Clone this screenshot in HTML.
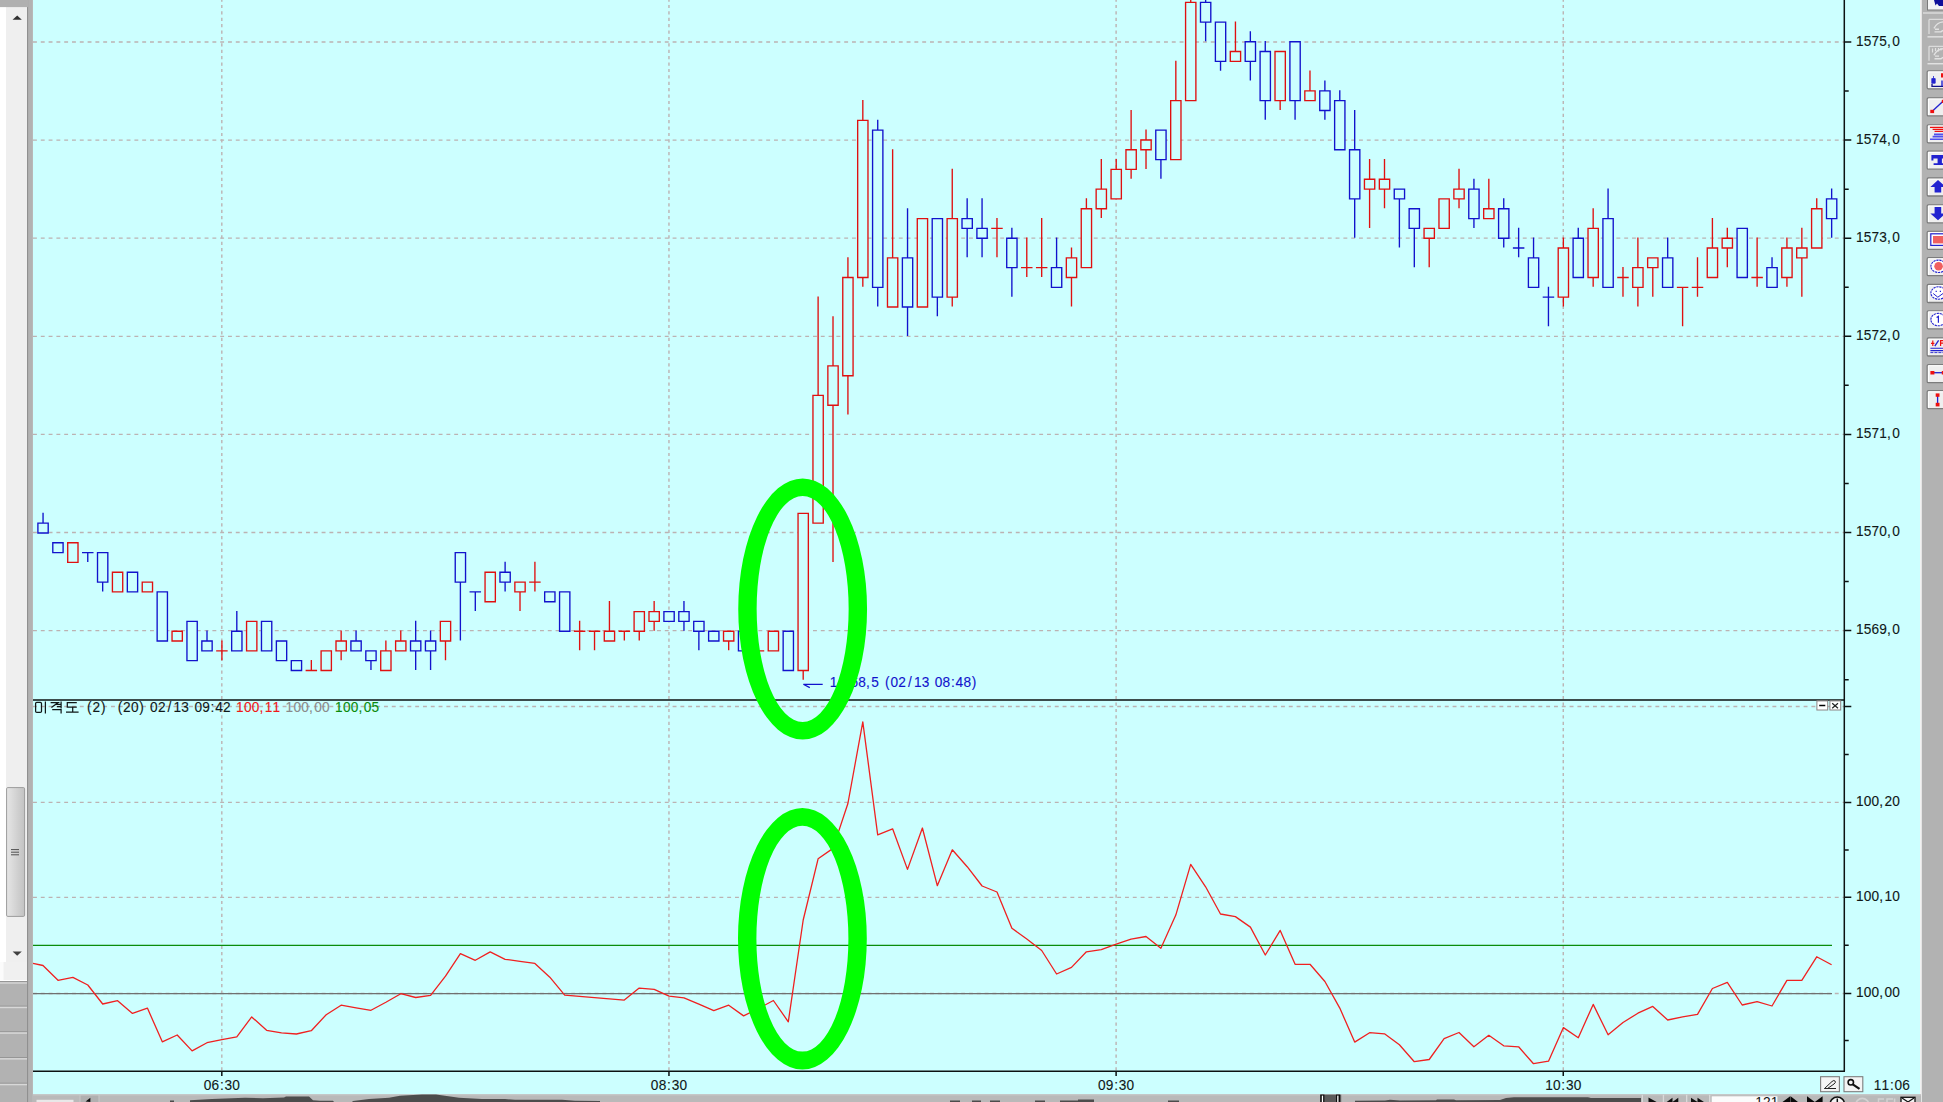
<!DOCTYPE html>
<html><head><meta charset="utf-8"><title>chart</title><style>html,body{margin:0;padding:0;background:#ccffff;overflow:hidden;font-family:"Liberation Sans",sans-serif}svg{display:block;position:absolute;left:0;top:0}</style></head><body>
<svg width="1943" height="1102" viewBox="0 0 1943 1102" font-family="'Liberation Sans', sans-serif">
<rect width="1943" height="1102" fill="#ccffff"/>
<path d="M33 630.60H1844M33 532.50H1844M33 434.40H1844M33 336.30H1844M33 238.20H1844M33 140.10H1844M33 42.00H1844M33 706.50H1844M33 802.40H1844M33 897.30H1844M33 993.50H1844" stroke="#bcb2b2" stroke-width="1.3" stroke-dasharray="3.9 3.9" fill="none"/>
<path d="M221.81 0V1071M668.96 0V1071M1116.11 0V1071M1563.26 0V1071" stroke="#bcb2b2" stroke-width="1.4" stroke-dasharray="3.2 3.2" stroke-dashoffset="1.5" fill="none"/>
<path d="M37.90 523.12H48.20V532.95H37.90ZM43.05 512.70V523.12M52.80 542.78H63.10V552.60H52.80ZM82.01 552.60H93.51M87.76 552.00V561.93M97.52 552.60H107.82V582.08H97.52ZM102.67 582.08V591.40M127.33 572.25H137.63V591.90H127.33ZM157.14 591.90H167.44V641.03H157.14ZM186.95 621.38H197.25V660.68H186.95ZM201.85 641.03H212.16V650.85H201.85ZM207.00 630.60V641.03M231.66 631.20H241.97V650.85H231.66ZM236.81 610.95V631.20M261.48 621.38H271.77V650.85H261.48ZM276.38 641.03H286.68V660.68H276.38ZM291.29 660.68H301.58V670.50H291.29ZM350.91 641.03H361.20V650.85H350.91ZM356.06 630.60V641.03M365.81 650.85H376.11V660.68H365.81ZM370.96 660.68V670.00M410.53 641.03H420.82V650.85H410.53ZM415.68 620.77V641.03M415.68 650.85V670.00M425.43 641.03H435.73V650.85H425.43ZM430.58 630.60V641.03M430.58 650.85V670.00M455.24 552.60H465.54V582.08H455.24ZM460.39 582.08V640.53M469.55 591.90H481.05M475.30 591.30V611.05M499.96 572.25H510.25V582.08H499.96ZM505.11 561.83V572.25M505.11 582.08V591.40M544.67 591.90H554.97V601.73H544.67ZM559.57 591.90H569.87V631.20H559.57ZM663.91 611.55H674.21V621.38H663.91ZM678.81 611.55H689.11V621.38H678.81ZM683.96 601.12V611.55M683.96 621.38V630.70M693.72 621.38H704.02V631.20H693.72ZM698.87 631.20V650.35M708.62 631.20H718.92V641.03H708.62ZM738.43 631.20H748.73V650.85H738.43ZM783.15 631.20H793.45V670.50H783.15ZM872.58 130.13H882.88V287.33H872.58ZM877.73 119.70V130.13M877.73 287.33V306.48M902.39 257.85H912.69V306.98H902.39ZM907.54 208.13V257.85M907.54 306.98V335.95M932.20 218.55H942.50V297.15H932.20ZM937.35 297.15V316.30M962.01 218.55H972.31V228.38H962.01ZM967.16 198.30V218.55M967.16 228.38V257.35M976.91 228.38H987.21V238.20H976.91ZM982.06 198.30V228.38M982.06 238.20V257.35M1006.72 238.20H1017.02V267.68H1006.72ZM1011.87 227.78V238.20M1011.87 267.68V296.65M1051.44 267.68H1061.74V287.33H1051.44ZM1056.59 237.60V267.68M1155.77 130.13H1166.08V159.60H1155.77ZM1160.92 159.60V178.75M1200.49 2.40H1210.79V22.05H1200.49ZM1205.64 -17.85V2.40M1205.64 22.05V41.20M1215.39 22.05H1225.69V61.35H1215.39ZM1220.54 61.35V70.68M1245.20 41.70H1255.50V61.35H1245.20ZM1250.35 31.28V41.70M1250.35 61.35V80.50M1260.11 51.53H1270.41V100.65H1260.11ZM1265.26 41.10V51.53M1265.26 100.65V119.80M1289.92 41.70H1300.22V100.65H1289.92ZM1295.07 100.65V119.80M1319.73 90.83H1330.03V110.48H1319.73ZM1324.88 80.40V90.83M1324.88 110.48V119.80M1334.63 100.65H1344.93V149.78H1334.63ZM1339.78 90.23V100.65M1349.54 149.78H1359.84V198.90H1349.54ZM1354.69 109.88V149.78M1354.69 198.90V237.70M1394.25 189.08H1404.56V198.90H1394.25ZM1399.40 198.90V247.53M1409.16 208.73H1419.46V228.38H1409.16ZM1414.31 228.38V267.18M1468.78 189.08H1479.08V218.55H1468.78ZM1473.93 178.65V189.08M1473.93 218.55V227.88M1498.59 208.73H1508.89V238.20H1498.59ZM1503.74 198.30V208.73M1503.74 238.20V247.53M1512.89 248.03H1524.39M1518.64 227.78V257.35M1528.40 257.85H1538.70V287.33H1528.40ZM1533.55 237.60V257.85M1542.70 297.15H1554.20M1548.45 286.73V326.13M1573.11 238.20H1583.41V277.50H1573.11ZM1578.26 227.78V238.20M1602.92 218.55H1613.22V287.33H1602.92ZM1608.07 188.48V218.55M1662.54 257.85H1672.85V287.33H1662.54ZM1667.69 237.60V257.85M1737.07 228.38H1747.37V277.50H1737.07ZM1766.88 267.68H1777.18V287.33H1766.88ZM1772.03 257.25V267.68M1826.50 198.90H1836.80V218.55H1826.50ZM1831.65 188.48V198.90M1831.65 218.55V237.70" stroke="#1212cc" stroke-width="1.35" fill="#ccffff" stroke-linejoin="miter"/>
<path d="M67.71 542.78H78.01V562.43H67.71ZM112.42 572.25H122.72V591.90H112.42ZM142.23 582.08H152.53V591.90H142.23ZM172.04 631.20H182.34V641.03H172.04ZM216.16 650.85H227.66M221.91 640.43V660.18M246.57 621.38H256.87V650.85H246.57ZM305.59 670.50H317.09M311.34 660.08V670.00M321.10 650.85H331.39V670.50H321.10ZM336.00 641.03H346.30V650.85H336.00ZM341.15 630.60V641.03M341.15 650.85V660.18M380.72 650.85H391.01V670.50H380.72ZM385.87 640.43V650.85M395.62 641.03H405.92V650.85H395.62ZM400.77 630.60V641.03M440.34 621.38H450.63V641.03H440.34ZM445.49 641.03V660.18M485.05 572.25H495.35V601.73H485.05ZM514.86 582.08H525.16V591.90H514.86ZM520.01 591.90V611.05M529.16 582.08H540.66M534.91 561.83V591.40M573.88 631.20H585.38M579.63 620.77V650.35M588.78 631.20H600.28M594.53 630.60V650.35M604.29 631.20H614.59V641.03H604.29ZM609.44 601.12V631.20M618.59 631.20H630.09M624.34 630.60V640.53M634.10 611.55H644.40V631.20H634.10ZM639.25 631.20V640.53M649.00 611.55H659.30V621.38H649.00ZM654.15 601.12V611.55M654.15 621.38V630.70M723.53 631.20H733.83V641.03H723.53ZM728.68 641.03V650.35M752.74 650.85H764.24M768.24 631.20H778.54V650.85H768.24ZM798.05 513.30H808.35V670.50H798.05ZM803.20 670.50V679.83M812.96 395.40H823.26V523.12H812.96ZM818.11 296.55V395.40M827.86 365.93H838.16V405.23H827.86ZM833.01 316.20V365.93M833.01 405.23V561.93M842.77 277.50H853.07V375.75H842.77ZM847.92 257.25V277.50M847.92 375.75V414.55M857.67 120.30H867.97V277.50H857.67ZM862.82 100.05V120.30M862.82 277.50V286.83M887.48 257.85H897.78V306.98H887.48ZM892.63 149.18V257.85M917.29 218.55H927.59V306.98H917.29ZM947.10 218.55H957.40V297.15H947.10ZM952.25 168.83V218.55M952.25 297.15V306.48M991.22 228.38H1002.72M996.97 217.95V257.35M1021.03 267.68H1032.53M1026.78 237.60V277.00M1035.93 267.68H1047.43M1041.68 217.95V277.00M1066.34 257.85H1076.64V277.50H1066.34ZM1071.49 247.43V257.85M1071.49 277.50V306.48M1081.25 208.73H1091.55V267.68H1081.25ZM1086.40 198.30V208.73M1096.15 189.08H1106.45V208.73H1096.15ZM1101.30 159.00V189.08M1101.30 208.73V218.05M1111.06 169.43H1121.36V198.90H1111.06ZM1116.21 159.00V169.43M1125.96 149.78H1136.27V169.43H1125.96ZM1131.12 109.88V149.78M1131.12 169.43V178.75M1140.87 139.95H1151.17V149.78H1140.87ZM1146.02 129.53V139.95M1146.02 149.78V168.93M1170.68 100.65H1180.98V159.60H1170.68ZM1175.83 60.75V100.65M1185.58 2.40H1195.88V100.65H1185.58ZM1190.73 -17.85V2.40M1230.30 51.53H1240.60V61.35H1230.30ZM1235.45 21.45V51.53M1275.01 51.53H1285.32V100.65H1275.01ZM1280.16 100.65V109.98M1304.82 90.83H1315.12V100.65H1304.82ZM1309.97 70.58V90.83M1364.44 179.25H1374.74V189.08H1364.44ZM1369.59 159.00V179.25M1369.59 189.08V227.88M1379.35 179.25H1389.65V189.08H1379.35ZM1384.50 159.00V179.25M1384.50 189.08V208.23M1424.06 228.38H1434.37V238.20H1424.06ZM1429.21 238.20V267.18M1438.97 198.90H1449.27V228.38H1438.97ZM1453.87 189.08H1464.17V198.90H1453.87ZM1459.02 168.83V189.08M1459.02 198.90V208.23M1483.68 208.73H1493.98V218.55H1483.68ZM1488.83 178.65V208.73M1558.21 248.03H1568.51V297.15H1558.21ZM1563.36 237.60V248.03M1563.36 297.15V306.48M1588.02 228.38H1598.32V277.50H1588.02ZM1593.17 208.13V228.38M1593.17 277.50V286.83M1617.23 277.50H1628.73M1622.98 267.08V296.65M1632.73 267.68H1643.04V287.33H1632.73ZM1637.88 237.60V267.68M1637.88 287.33V306.48M1647.64 257.85H1657.94V267.68H1647.64ZM1652.79 267.68V296.65M1676.85 287.33H1688.35M1682.60 286.73V326.13M1691.75 287.33H1703.25M1697.50 257.25V296.65M1707.26 248.03H1717.56V277.50H1707.26ZM1712.41 217.95V248.03M1722.16 238.20H1732.46V248.03H1722.16ZM1727.31 227.78V238.20M1727.31 248.03V267.18M1751.37 277.50H1762.87M1757.12 237.60V286.83M1781.78 248.03H1792.09V277.50H1781.78ZM1786.93 237.60V248.03M1786.93 277.50V286.83M1796.69 248.03H1806.99V257.85H1796.69ZM1801.84 227.78V248.03M1801.84 257.85V296.65M1811.59 208.73H1821.89V248.03H1811.59ZM1816.74 198.30V208.73" stroke="#e01010" stroke-width="1.35" fill="#ccffff" stroke-linejoin="miter"/>
<path d="M803.3 684.3H822.7M803.3 684.3L809.8 687.6" stroke="#1212cc" stroke-width="1.2" fill="none"/>
<path d="M33 945.3H1832" stroke="#0b8c0b" stroke-width="1.25" fill="none"/>
<path d="M33 993.6H1832" stroke="#707070" stroke-width="1.25" fill="none"/>
<polyline points="33,963.4 43.0,965.5 58.0,980.3 72.9,977.4 87.8,985.0 102.7,1004.0 117.6,1000.7 132.5,1013.4 147.4,1008.1 162.3,1041.8 177.2,1035.0 192.1,1050.9 207.0,1042.7 221.9,1039.6 236.8,1036.9 251.7,1016.9 266.6,1030.3 281.5,1032.8 296.4,1034.0 311.3,1030.7 326.2,1014.7 341.1,1005.2 356.1,1007.9 371.0,1010.3 385.9,1002.3 400.8,993.7 415.7,997.5 430.6,995.3 445.5,976.2 460.4,953.7 475.3,960.3 490.2,951.9 505.1,959.3 520.0,961.3 534.9,963.4 549.8,977.2 564.7,995.1 579.6,996.3 594.5,997.6 609.4,998.8 624.3,1000.1 639.2,988.1 654.2,989.3 669.1,996.1 684.0,997.8 698.9,1004.2 713.8,1010.6 728.7,1005.2 743.6,1015.9 758.5,1008.5 773.4,1000.5 788.3,1021.8 803.2,920.0 818.1,858.8 833.0,848.4 847.9,803.5 862.8,721.8 877.7,834.8 892.6,828.8 907.5,869.4 922.4,828.0 937.3,885.7 952.3,849.8 967.2,866.7 982.1,886.0 997.0,892.0 1011.9,928.2 1026.8,939.1 1041.7,950.5 1056.6,974.0 1071.5,967.4 1086.4,951.8 1101.3,949.6 1116.2,944.1 1131.1,939.1 1146.0,936.5 1160.9,948.2 1175.8,915.1 1190.7,864.4 1205.6,886.8 1220.5,914.0 1235.4,916.6 1250.4,927.1 1265.3,955.0 1280.2,930.4 1295.1,964.3 1310.0,964.3 1324.9,981.5 1339.8,1008.1 1354.7,1042.1 1369.6,1032.7 1384.5,1033.8 1399.4,1044.7 1414.3,1061.7 1429.2,1059.5 1444.1,1038.6 1459.0,1032.5 1473.9,1046.8 1488.8,1035.3 1503.7,1045.8 1518.6,1046.8 1533.5,1063.7 1548.5,1061.2 1563.4,1027.6 1578.3,1037.7 1593.2,1004.4 1608.1,1034.8 1623.0,1022.5 1637.9,1013.2 1652.8,1006.4 1667.7,1020.0 1682.6,1016.9 1697.5,1014.3 1712.4,988.5 1727.3,982.3 1742.2,1005.0 1757.1,1001.7 1772.0,1006.0 1786.9,980.3 1801.8,980.3 1816.7,956.8 1831.6,964.8" stroke="#f02020" stroke-width="1.3" fill="none" stroke-linejoin="round"/>
<path d="M1844.3 0V1071.3M33 1071.3H1845M33 700.1H1845M1844.3 679.65h4.4M1844.3 630.60h7M1844.3 581.55h4.4M1844.3 532.50h7M1844.3 483.45h4.4M1844.3 434.40h7M1844.3 385.35h4.4M1844.3 336.30h7M1844.3 287.25h4.4M1844.3 238.20h7M1844.3 189.15h4.4M1844.3 140.10h7M1844.3 91.05h4.4M1844.3 42.00h7M1844.3 706.50h7M1844.3 754.40h4.4M1844.3 802.40h7M1844.3 849.90h4.4M1844.3 897.30h7M1844.3 945.30h4.4M1844.3 993.50h7M1844.3 1040.40h4.4M221.81 1071.3v4.7M668.96 1071.3v4.7M1116.11 1071.3v4.7M1563.26 1071.3v4.7" stroke="#0c1212" stroke-width="1.5" fill="none"/>
<text transform="scale(0.9,1)" x="2062.11 2070.77 2079.44 2088.11 2096.66 2102.55" y="634.35" font-size="15.2" fill="#101818" stroke="#101818" stroke-width="0.12">1569,0</text>
<text transform="scale(0.9,1)" x="2062.11 2070.77 2079.44 2088.11 2096.66 2102.55" y="536.25" font-size="15.2" fill="#101818" stroke="#101818" stroke-width="0.12">1570,0</text>
<text transform="scale(0.9,1)" x="2062.11 2070.77 2079.44 2088.11 2096.66 2102.55" y="438.15" font-size="15.2" fill="#101818" stroke="#101818" stroke-width="0.12">1571,0</text>
<text transform="scale(0.9,1)" x="2062.11 2070.77 2079.44 2088.11 2096.66 2102.55" y="340.05" font-size="15.2" fill="#101818" stroke="#101818" stroke-width="0.12">1572,0</text>
<text transform="scale(0.9,1)" x="2062.11 2070.77 2079.44 2088.11 2096.66 2102.55" y="241.95" font-size="15.2" fill="#101818" stroke="#101818" stroke-width="0.12">1573,0</text>
<text transform="scale(0.9,1)" x="2062.11 2070.77 2079.44 2088.11 2096.66 2102.55" y="143.85" font-size="15.2" fill="#101818" stroke="#101818" stroke-width="0.12">1574,0</text>
<text transform="scale(0.9,1)" x="2062.11 2070.77 2079.44 2088.11 2096.66 2102.55" y="45.75" font-size="15.2" fill="#101818" stroke="#101818" stroke-width="0.12">1575,0</text>
<text transform="scale(0.9,1)" x="2062.11 2070.77 2079.44 2088.00 2093.89 2102.55" y="805.80" font-size="15.2" fill="#101818" stroke="#101818" stroke-width="0.12">100,20</text>
<text transform="scale(0.9,1)" x="2062.11 2070.77 2079.44 2088.00 2093.89 2102.55" y="900.70" font-size="15.2" fill="#101818" stroke="#101818" stroke-width="0.12">100,10</text>
<text transform="scale(0.9,1)" x="2062.11 2070.77 2079.44 2088.00 2093.89 2102.55" y="996.90" font-size="15.2" fill="#101818" stroke="#101818" stroke-width="0.12">100,00</text>
<text transform="scale(0.9,1)" x="226.34 235.01 244.34 249.45 258.12" y="1089.90" font-size="15.2" fill="#101818" stroke="#101818" stroke-width="0.12">06:30</text>
<text transform="scale(0.9,1)" x="723.17 731.84 741.18 746.29 754.95" y="1089.90" font-size="15.2" fill="#101818" stroke="#101818" stroke-width="0.12">08:30</text>
<text transform="scale(0.9,1)" x="1220.01 1228.67 1238.01 1243.12 1251.79" y="1089.90" font-size="15.2" fill="#101818" stroke="#101818" stroke-width="0.12">09:30</text>
<text transform="scale(0.9,1)" x="1716.84 1725.51 1734.84 1739.95 1748.62" y="1089.90" font-size="15.2" fill="#101818" stroke="#101818" stroke-width="0.12">10:30</text>
<text transform="scale(0.9,1)" x="2081.89 2090.55 2099.89 2105.00 2113.66" y="1089.70" font-size="15.2" fill="#101818" stroke="#101818" stroke-width="0.12">11:06</text>
<path d="M35.6 703.6Q35.6 702.4 36.8 702.4H40.3Q41.5 702.4 41.5 703.6V711.2Q41.5 712.4 40.3 712.4H36.8Q35.6 712.4 35.6 711.2ZM45.4 701.6V713.4M50.6 702.5H58.2L51.4 707.6M57 704.3H61.1M57 706.7H61.1M61.1 701.6V708.6M52.2 709.7H61.1V713.5M76.8 702.5H67.3V707H76.8M72.7 707V712M66 712H78.6" stroke="#101818" stroke-width="1.25" fill="none"/>
<text transform="scale(0.9,1)" x="96.75 102.77 112.19 130.75 136.77 145.44 154.86 166.77 175.44 186.22 192.77 201.44 216.00 224.66 234.00 239.11 247.77" y="712.30" font-size="15.2" fill="#101818" stroke="#101818" stroke-width="0.12">(2)(20)02/1309:42</text>
<text transform="scale(0.9,1)" x="262.33 271.00 279.66 288.22 294.11 302.77" y="712.30" font-size="15.2" fill="#f01818" stroke="#f01818" stroke-width="0.12">100,11</text>
<text transform="scale(0.9,1)" x="317.33 326.00 334.66 343.22 349.11 357.77" y="712.30" font-size="15.2" fill="#8a8a8a" stroke="#8a8a8a" stroke-width="0.12">100,00</text>
<text transform="scale(0.9,1)" x="372.33 381.00 389.66 398.22 404.11 412.77" y="712.30" font-size="15.2" fill="#0a8a0a" stroke="#0a8a0a" stroke-width="0.12">100,05</text>
<text transform="scale(0.9,1)" x="921.89 930.44 936.33 945.00 953.66 962.22 968.11 983.41 989.44 998.11 1008.89 1015.44 1024.11 1038.66 1047.33 1056.66 1061.77 1070.44 1079.86" y="686.90" font-size="15.2" fill="#1212cc" stroke="#1212cc" stroke-width="0.12">1,568,5(02/1308:48)</text>
<rect x="1816.9" y="700.9" width="10.8" height="9.1" fill="#fff" stroke="#8c8484" stroke-width="1"/>
<rect x="1829.9" y="700.9" width="10.8" height="9.1" fill="#fff" stroke="#8c8484" stroke-width="1"/>
<path d="M1819.2 705.5H1825.3" stroke="#000" stroke-width="1.5"/>
<path d="M1832.2 703.2L1838 708.2M1838 703.2L1832.2 708.2" stroke="#222" stroke-width="1.2"/>
<path d="M738.25 609.0A64.4 130.6 0 1 0 867.05 609.0A64.4 130.6 0 1 0 738.25 609.0ZM756.65 609.0A46.0 112.9 0 1 0 848.65 609.0A46.0 112.9 0 1 0 756.65 609.0Z" fill="#00ff00" fill-rule="evenodd"/>
<path d="M738.0 938.7A64.4 130.6 0 1 0 866.8 938.7A64.4 130.6 0 1 0 738.0 938.7ZM756.4 938.7A46.0 112.9 0 1 0 848.4 938.7A46.0 112.9 0 1 0 756.4 938.7Z" fill="#00ff00" fill-rule="evenodd"/>
<rect x="1820.6" y="1076.7" width="18.8" height="15" fill="#f4f4f4" stroke="#7c7c7c" stroke-width="1.1"/>
<rect x="1844" y="1076.7" width="18.8" height="15" fill="#f4f4f4" stroke="#7c7c7c" stroke-width="1.1"/>
<path d="M1824.5 1088.5L1832 1081.5Q1834 1079.6 1835.2 1081.2Q1836 1082.6 1834 1084L1827.5 1088.5ZM1824.5 1088.5H1836" stroke="#222" stroke-width="1" fill="none"/>
<circle cx="1850.8" cy="1082.3" r="2.7" fill="none" stroke="#111" stroke-width="1.6"/><path d="M1852.8 1084.3L1859.5 1088.8" stroke="#111" stroke-width="2.2"/>
<rect x="0" y="0" width="33" height="1102" fill="#efefef"/>
<rect x="0" y="0" width="6" height="1102" fill="#ffffff"/>
<rect x="27" y="0" width="5.9" height="1102" fill="#b2b2b2"/>
<rect x="27" y="0" width="1.1" height="1102" fill="#909090"/>
<rect x="0" y="0" width="28" height="7.1" fill="#b0b0b0"/>
<path d="M12.6 19.8L17.2 15.6L21.8 19.8Z" fill="#303030"/>
<path d="M12.6 951.6L17.2 955.8L21.8 951.6Z" fill="#404040"/>
<defs><linearGradient id="tg" x1="0" x2="1" y1="0" y2="0"><stop offset="0" stop-color="#e6e6e6"/><stop offset="0.5" stop-color="#d4d4d4"/><stop offset="1" stop-color="#c2c2c2"/></linearGradient></defs>
<rect x="6.6" y="787.6" width="18" height="128.8" rx="1.2" fill="url(#tg)" stroke="#9c9c9c" stroke-width="1"/>
<path d="M11 849.6H19M11 852.2H19M11 854.8H19" stroke="#505050" stroke-width="1"/>
<rect x="0" y="962" width="27" height="19.5" fill="#f0f0f0"/>
<rect x="0" y="962" width="3.5" height="19.5" fill="#fbfbfb"/>
<rect x="0" y="980" width="27" height="1.3" fill="#ffffff"/>
<rect x="0" y="981.2" width="27" height="121" fill="#b2b2b2"/>
<rect x="0" y="981" width="27" height="1" fill="#969696"/><rect x="0" y="982" width="27" height="2" fill="#cbcbcb"/>
<rect x="0" y="1005.6" width="27" height="1.1" fill="#969696"/><rect x="0" y="1006.7" width="27" height="1.5" fill="#d8d8d8"/>
<rect x="0" y="1031.2" width="27" height="1.1" fill="#969696"/><rect x="0" y="1032.3" width="27" height="1.5" fill="#d8d8d8"/>
<rect x="0" y="1057.0" width="27" height="1.1" fill="#969696"/><rect x="0" y="1058.1" width="27" height="1.5" fill="#d8d8d8"/>
<rect x="0" y="1082.7" width="27" height="1.1" fill="#969696"/><rect x="0" y="1083.8" width="27" height="1.5" fill="#d8d8d8"/>
<rect x="1920" y="0" width="23" height="1102" fill="#b2b2b2"/>
<rect x="1920" y="0" width="1.8" height="1102" fill="#f2f2f2"/>
<rect x="1927.5" y="-6" width="20" height="16" fill="#f4f4f4" stroke="#7a7a7a" stroke-width="1"/>
<path d="M1934 0H1943V6H1939L1937 3.5L1935.5 5.5Z" fill="#10109a"/>
<rect x="1923" y="12.4" width="21" height="1.2" fill="#e4e4e4"/>
<path d="M1929 19.4V33.9M1929 19.4H1943" stroke="#dcdcdc" stroke-width="1.3" fill="none"/>
<path d="M1934 28.4Q1937 22.4 1943 21.9M1934.5 31.9H1941L1943 30.4M1935 29.2H1939" stroke="#e2e2e2" stroke-width="1.4" fill="none"/>
<rect x="1927.5" y="36.2" width="16" height="1.3" fill="#e6e6e6"/>
<path d="M1929 46.3V60.8M1929 46.3H1943" stroke="#dcdcdc" stroke-width="1.3" fill="none"/>
<path d="M1934 55.3Q1937 49.3 1943 48.8M1934.5 58.8H1941L1943 57.3M1935 56.099999999999994H1939" stroke="#e2e2e2" stroke-width="1.4" fill="none"/>
<rect x="1927.5" y="63.099999999999994" width="16" height="1.3" fill="#e6e6e6"/>
<path d="M1932.5 48.5v4M1935.5 48v3M1938.5 48v3.5M1941 48v2.5" stroke="#e2e2e2" stroke-width="1.2" fill="none"/>
<rect x="1927.2" y="70.80000000000001" width="20" height="18" rx="1.2" fill="#efefef" stroke="#7c7c7c" stroke-width="1.3"/>
<path d="M1928.4 87.80000000000001V71.9H1944" stroke="#ffffff" stroke-width="1" fill="none"/>
<path d="M1931.8 78.6h3.4v4.6h-3.4ZM1933.5 76v2.6" fill="#2222d0" stroke="#2222d0" stroke-width="0.8"/><path d="M1932 83.8V86.3H1943" stroke="#10108a" stroke-width="1.3" fill="none"/><path d="M1941 73.3h2.5v4.2h-2.5Z" fill="#ee1010"/><path d="M1942 80.5V86" stroke="#2222d0" stroke-width="1.4"/>
<rect x="1927.2" y="97.9" width="20" height="18" rx="1.2" fill="#efefef" stroke="#7c7c7c" stroke-width="1.3"/>
<path d="M1928.4 114.9V99.0H1944" stroke="#ffffff" stroke-width="1" fill="none"/>
<path d="M1932.5 111L1943 101.3" stroke="#2222d0" stroke-width="1.3"/><rect x="1930.3" y="109.8" width="3.8" height="3.3" fill="#ee1010"/><rect x="1941.8" y="99.8" width="2" height="3.2" fill="#ee1010"/>
<rect x="1927.2" y="124.80000000000001" width="20" height="18" rx="1.2" fill="#efefef" stroke="#7c7c7c" stroke-width="1.3"/>
<path d="M1928.4 141.8V125.9H1944" stroke="#ffffff" stroke-width="1" fill="none"/>
<path d="M1930 127.4H1943M1932.6 129.4H1943M1934.6 131.4H1943" stroke="#ee1010" stroke-width="1.2"/><path d="M1934 134.4H1943M1932.6 136.6H1943M1930 139.2H1943" stroke="#5050ee" stroke-width="1.6"/>
<rect x="1927.2" y="151.20000000000002" width="20" height="18" rx="1.2" fill="#efefef" stroke="#7c7c7c" stroke-width="1.3"/>
<path d="M1928.4 168.20000000000002V152.3H1944" stroke="#ffffff" stroke-width="1" fill="none"/>
<path d="M1931.4 154.9H1946V158.5H1941.9V163.2H1946V164.9H1933.6V163.2H1937.6V158.5H1933.4V160.6H1931.4Z" fill="#2222d0"/>
<rect x="1927.2" y="178.0" width="20" height="18" rx="1.2" fill="#efefef" stroke="#7c7c7c" stroke-width="1.3"/>
<path d="M1928.4 195.0V179.1H1944" stroke="#ffffff" stroke-width="1" fill="none"/>
<path d="M1938 180L1945.6 187H1941.2V192.6H1934.6V187H1930.4Z" fill="#2222d0"/>
<rect x="1927.2" y="204.9" width="20" height="18" rx="1.2" fill="#efefef" stroke="#7c7c7c" stroke-width="1.3"/>
<path d="M1928.4 221.9V206.0H1944" stroke="#ffffff" stroke-width="1" fill="none"/>
<path d="M1934.6 207H1941.2V213.4H1945.6L1938 220.2L1930.4 213.4H1934.6Z" fill="#2222d0"/>
<rect x="1927.2" y="231.3" width="20" height="18" rx="1.2" fill="#efefef" stroke="#7c7c7c" stroke-width="1.3"/>
<path d="M1928.4 248.3V232.4H1944" stroke="#ffffff" stroke-width="1" fill="none"/>
<rect x="1930.8" y="233.8" width="14" height="11.6" fill="#fff" stroke="#2222d0" stroke-width="1.2"/><rect x="1933" y="236" width="12" height="7.4" fill="#f06060"/>
<rect x="1927.2" y="257.7" width="20" height="18" rx="1.2" fill="#efefef" stroke="#7c7c7c" stroke-width="1.3"/>
<path d="M1928.4 274.7V258.8H1944" stroke="#ffffff" stroke-width="1" fill="none"/>
<ellipse cx="1938.5" cy="266.3" rx="7.6" ry="6.2" fill="#fff" stroke="#2222d0" stroke-width="1.1" stroke-dasharray="2.2 0.8"/><circle cx="1938.6" cy="266.3" r="4.3" fill="#f06060"/>
<rect x="1927.2" y="284.5" width="20" height="18" rx="1.2" fill="#efefef" stroke="#7c7c7c" stroke-width="1.3"/>
<path d="M1928.4 301.5V285.6H1944" stroke="#ffffff" stroke-width="1" fill="none"/>
<ellipse cx="1938.5" cy="293" rx="7.6" ry="6.2" fill="#fff" stroke="#2222d0" stroke-width="1.1" stroke-dasharray="2.2 0.8"/><path d="M1933.2 293.5L1937.8 297.2L1943 293.5" stroke="#2222d0" stroke-width="1" fill="none"/><path d="M1935.6 291.3h1.2M1939.8 291.3h1.2" stroke="#2222d0" stroke-width="1.2"/>
<rect x="1927.2" y="310.79999999999995" width="20" height="18" rx="1.2" fill="#efefef" stroke="#7c7c7c" stroke-width="1.3"/>
<path d="M1928.4 327.79999999999995V311.9H1944" stroke="#ffffff" stroke-width="1" fill="none"/>
<ellipse cx="1938.3" cy="319.6" rx="7.4" ry="6.2" fill="#fff" stroke="#2222d0" stroke-width="1.1" stroke-dasharray="2.2 0.8"/><path d="M1936.6 317.6L1938.4 316.4V322.8" stroke="#2222d0" stroke-width="1.2" fill="none"/>
<rect x="1927.2" y="338.0" width="20" height="18" rx="1.2" fill="#efefef" stroke="#7c7c7c" stroke-width="1.3"/>
<path d="M1928.4 355.0V339.1H1944" stroke="#ffffff" stroke-width="1" fill="none"/>
<path d="M1931 343.4H1934.4M1932.8 340.6V346M1940.6 346V340.6H1943M1940.6 343.2H1943" stroke="#ee1010" stroke-width="1.2" fill="none"/><path d="M1934.8 346.2L1938.6 340.4" stroke="#2222d0" stroke-width="1.3"/><path d="M1930.4 348.2H1943M1930.4 350.6H1943" stroke="#2222d0" stroke-width="1.1" /><path d="M1930.4 352.6H1943" stroke="#2222d0" stroke-width="0.9" stroke-dasharray="3 1"/>
<rect x="1927.2" y="364.59999999999997" width="20" height="18" rx="1.2" fill="#efefef" stroke="#7c7c7c" stroke-width="1.3"/>
<path d="M1928.4 381.59999999999997V365.7H1944" stroke="#ffffff" stroke-width="1" fill="none"/>
<path d="M1932 372.7H1943" stroke="#2222d0" stroke-width="1.3"/><rect x="1930.4" y="371" width="4" height="3.5" fill="#ee1010"/><rect x="1941.8" y="371" width="2" height="3.5" fill="#ee1010"/>
<rect x="1927.2" y="390.7" width="20" height="18" rx="1.2" fill="#efefef" stroke="#7c7c7c" stroke-width="1.3"/>
<path d="M1928.4 407.7V391.8H1944" stroke="#ffffff" stroke-width="1" fill="none"/>
<path d="M1937.6 395V405" stroke="#2222d0" stroke-width="1.3"/><rect x="1935.7" y="393.4" width="3.8" height="3.4" fill="#ee1010"/><rect x="1935.7" y="402.8" width="3.8" height="3.6" fill="#ee1010"/>
<rect x="33" y="1094.3" width="1888" height="8" fill="#b9b9b9"/>
<rect x="33" y="1094.3" width="1888" height="1.2" fill="#c6c6c6"/>
<polygon points="190,1102 190,1100.3 212,1099 245,1097.8 263,1098.2 284,1097.6 286,1096.5 309,1096.5 313,1100.2 320,1100.8 333,1100.8 334,1102" fill="#4c4c4c"/>
<polygon points="352,1102 353,1101 369,1099 389,1097.8 400,1095.8 422,1094.6 436,1094.6 459,1097.7 482,1099 505,1099 515,1099.8 562,1099.8 575,1100.8 600,1101 600,1102" fill="#4c4c4c"/>
<polygon points="1355,1102 1355,1100.7 1385,1100.6 1390,1099.8 1400,1100.4 1436,1100.2 1437,1099.4 1454,1099.4 1456,1100.2 1500,1100 1506,1098.1 1514,1097.2 1588,1097.2 1591,1098.1 1641,1098.1 1641,1102" fill="#4c4c4c"/>
<path d="M950 1101.4H960M972 1101.4H981M990 1101.2H1000M1035 1101.2H1045M1060 1101.2H1094M1078 1100.4H1094M1168 1101.2H1179M170 1101.3H174" stroke="#4c4c4c" stroke-width="1.6"/>
<rect x="36.5" y="1099.8" width="37" height="3" fill="#e8e8e8"/>
<rect x="80" y="1095" width="19" height="8" fill="#b0b0b0" stroke="#c8c8c8" stroke-width="1"/>
<path d="M85.6 1101.5L90.4 1097.8V1102Z" fill="#111"/>
<rect x="1320" y="1094.6" width="21.2" height="8" fill="#5a5a5a"/>
<rect x="1320.4" y="1094.6" width="4" height="8" fill="#111"/><rect x="1321.8" y="1095.6" width="1.3" height="7" fill="#fff"/>
<rect x="1336" y="1094.6" width="4" height="8" fill="#111"/><rect x="1337.2" y="1095.6" width="1.3" height="7" fill="#fff"/>
<rect x="1641.7" y="1094.8" width="1.3" height="8" fill="#d9d9d9"/>
<rect x="1662.8" y="1094.8" width="1.3" height="8" fill="#d9d9d9"/>
<rect x="1686" y="1094.8" width="1.3" height="8" fill="#d9d9d9"/>
<rect x="1709" y="1094.8" width="1.3" height="8" fill="#d9d9d9"/>
<path d="M1648.5 1097.6L1656.6 1102H1648.5Z" fill="#111"/>
<path d="M1666.7 1102L1672.5 1097.8V1102ZM1672.5 1102L1678.3 1097.8V1102Z" fill="#111"/>
<path d="M1691 1097.8L1697.5 1102H1691ZM1697.5 1097.8L1704 1102H1697.5Z" fill="#111"/>
<rect x="1711.7" y="1096.3" width="65.7" height="7" fill="#fbfbfb"/>
<text transform="scale(0.9,1)" x="1950.2 1958.9 1967.6" y="1107" font-size="15.2" fill="#111">121</text>
<path d="M1782.5 1102L1790.2 1096.2V1102ZM1798 1102L1790.6 1096.2V1102Z" fill="#0a0a0a"/>
<path d="M1807 1096.2L1814.8 1102H1807ZM1822.6 1096.2L1814.8 1102H1822.6Z" fill="#0a0a0a"/>
<circle cx="1837.3" cy="1104.2" r="7.2" fill="#f4f4f4" stroke="#111" stroke-width="1.5"/><path d="M1837.3 1098.5V1102" stroke="#111" stroke-width="1.5"/>
<circle cx="1862.3" cy="1105" r="6.6" fill="none" stroke="#d2d2d2" stroke-width="1.6"/>
<path d="M1878.5 1102V1099H1884M1887 1102V1099H1893M1894.6 1098.6V1102" stroke="#d2d2d2" stroke-width="1.5" fill="none"/>
<rect x="1901" y="1097.3" width="14" height="7" fill="#f2f2f2" stroke="#111" stroke-width="1.3"/><path d="M1902 1098L1908 1102L1914 1098" stroke="#111" stroke-width="1.2" fill="none"/>
</svg>
</body></html>
